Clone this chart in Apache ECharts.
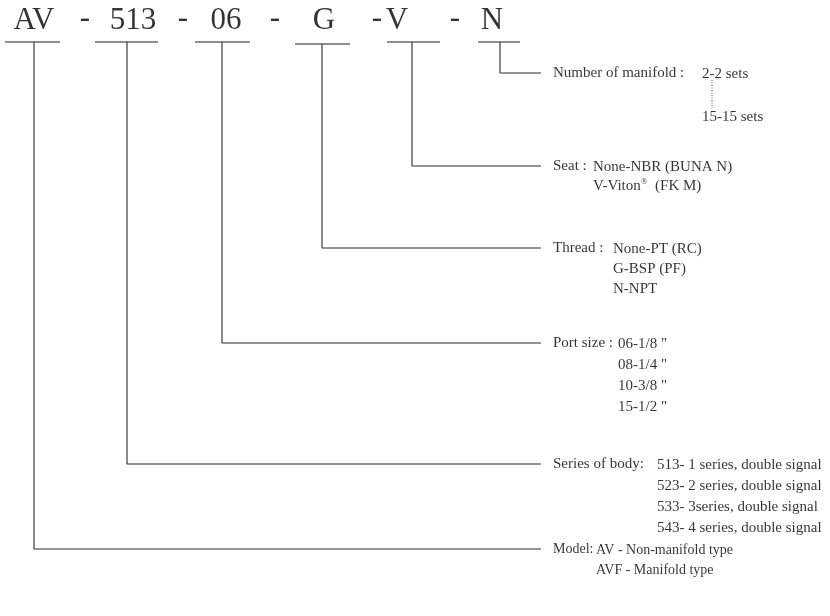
<!DOCTYPE html>
<html><head><meta charset="utf-8">
<script src="https://cdn.jsdelivr.net/npm/echarts@6/dist/echarts.min.js"></script>
<style>html,body{margin:0;background:#fff}#c{width:830px;height:616px}</style>
</head><body><div id="c"></div>
<script>
// ---- content ----
const codes = ['AV', '513', '06', 'G', 'V', 'N'];
const separators = ['-', '-', '-', '-', '-'];
const titles = ['Model:', 'Series of body:', 'Port size :', 'Thread :', 'Seat :', 'Number of manifold :'];
const choices = [
  ['AV - Non-manifold type', 'AVF - Manifold type'],
  ['513- 1 series, double signal', '523- 2 series, double signal', '533- 3series, double signal', '543- 4 series, double signal'],
  ['06-1/8 "', '08-1/4 "', '10-3/8 "', '15-1/2 "'],
  ['None-PT (RC)', 'G-BSP (PF)', 'N-NPT'],
  ['None-NBR (BUNA N)', 'V-Viton{sup|®}  (FK M)'],
  ['2-2 sets', '15-15 sets']
];

// ---- layout ----
const codeCenterX = [34, 133, 226, 324, 397, 492];
const codeY = 21;
const sepX = [85, 183, 275, 377, 455];
const underlineX = [[5, 60], [95, 158], [195, 250], [295, 350], [387, 440], [478, 520]];
const underlineY = [42, 42, 42, 44, 42, 42];
const stemX = [34, 127, 222, 322, 412, 500];
const elbowY = [549, 464, 343, 248, 166, 73];
const lineEndX = 541;
const titleX = 553;
const choiceX = [596, 657, 618, 613, 593, 702];
const choiceGap = [20, 21, 21, 20, 19, 43];
const textSize = [14, 15, 15, 15, 15, 15];
const dotX = 712;

const FONT = "'Liberation Serif','Times New Roman',serif";
const series = [];
const lineBase = { type: 'line', symbol: 'none', silent: true, animation: false };

// underlines
underlineX.forEach((u, i) => series.push(Object.assign({}, lineBase, {
  data: [[u[0], underlineY[i]], [u[1], underlineY[i]]],
  lineStyle: { color: '#6a6a6a', width: 1.6 }
})));
// connectors
stemX.forEach((x, i) => series.push(Object.assign({}, lineBase, {
  data: [[x, underlineY[i]], [x, elbowY[i]], [lineEndX, elbowY[i]]],
  lineStyle: { color: '#2a2a2a', width: 1.1 }
})));
// dotted range line
series.push(Object.assign({}, lineBase, {
  data: [[dotX, elbowY[5] + 7], [dotX, elbowY[5] + choiceGap[5] - 8]],
  lineStyle: { color: '#555', width: 1, type: [1, 1.5] }
}));

// top code letters
const codeData = codes.map((c, i) => ({ value: [codeCenterX[i], codeY], label: { formatter: c } }));
const sepData = separators.map((s, i) => ({ value: [sepX[i], codeY - 2], label: { formatter: s } }));
series.push({
  type: 'scatter', symbolSize: 0, silent: true, animation: false,
  data: codeData.concat(sepData),
  label: { show: true, position: 'inside', color: '#000', fontFamily: FONT, fontSize: 31 }
});

// descriptions
const textData = [];
titles.forEach((t, i) => {
  const fs = textSize[i];
  textData.push({ value: [titleX, elbowY[i]], label: { formatter: t, fontSize: fs } });
  choices[i].forEach((c, j) => {
    textData.push({ value: [choiceX[i], elbowY[i] + j * choiceGap[i] + 1], label: { formatter: c, fontSize: fs } });
  });
});
series.push({
  type: 'scatter', symbolSize: 0, silent: true, animation: false,
  data: textData,
  label: {
    show: true, position: 'right', distance: 0, align: 'left', verticalAlign: 'middle',
    color: '#000', fontFamily: FONT, fontSize: 15,
    rich: { sup: { fontSize: 9, fontFamily: FONT, color: '#000', verticalAlign: 'top', padding: [0, 0, 8, 0] } }
  }
});

const chart = echarts.init(document.getElementById('c'), null, { renderer: 'canvas' });
chart.setOption({
  backgroundColor: '#fff',
  animation: false,
  grid: { left: 0, right: 0, top: 0, bottom: 0 },
  xAxis: { type: 'value', min: 0, max: 830, show: false },
  yAxis: { type: 'value', min: 0, max: 616, inverse: true, show: false },
  series: series
});
</script></body></html>
